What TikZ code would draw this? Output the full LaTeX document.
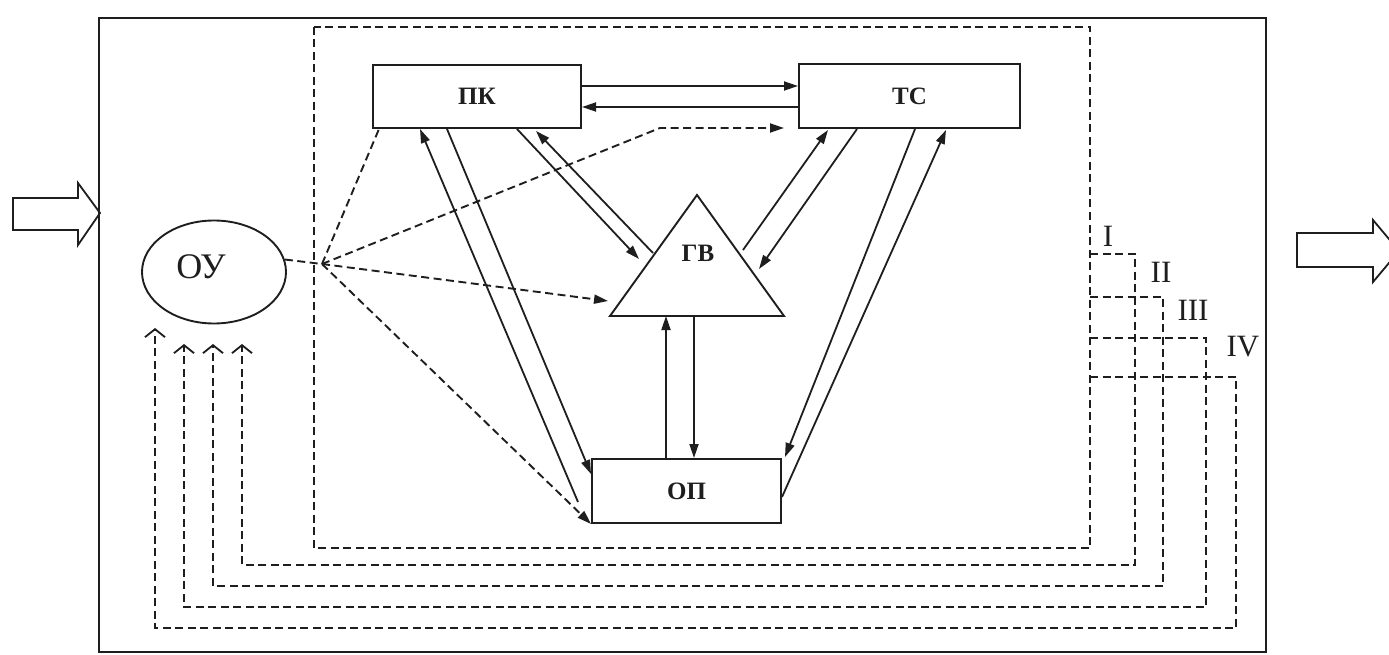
\documentclass[tikz,border=0pt]{standalone}
\usepackage{fontspec}
\setmainfont{Liberation Serif}
\usetikzlibrary{arrows.meta,shapes.geometric,calc}
\definecolor{ink}{RGB}{30,30,30}
\begin{document}
\begin{tikzpicture}[x=1pt,y=-1pt,
  ln/.style={line width=1.8pt, draw=ink},
  arr/.style={ln, -{Triangle[length=14pt,width=9pt]}},
  dsh/.style={line width=1.9pt, draw=ink, dash pattern=on 8pt off 4.5pt},
  darr/.style={dsh, -{Triangle[length=14pt,width=9pt]}},
  fb/.style={dsh, -{Straight Barb[length=8pt,width=20pt,line width=1.8pt]}},
  lbl/.style={font=\bfseries\fontsize{25}{27}\selectfont, text=ink},
  box/.style={draw=ink, line width=2pt, rectangle, inner sep=0pt, lbl},
  roman/.style={font=\fontsize{31}{33}\selectfont, text=ink, inner sep=0pt},
  blockarrow/.style={draw=ink, line width=1.8pt, line join=miter}
]
\useasboundingbox (0,0) rectangle (1389,655);
\clip (0,0) rectangle (1389,655);

% outer frame and inner dashed frame
\draw[ink, line width=2.2pt] (99,18) rectangle (1266,652);
\draw[dsh] (314,27) rectangle (1090,548);

% input / output block arrows
\draw[blockarrow] (13,198) -- (78,198) -- (78,183) -- (100,213) -- (78,245) -- (78,230) -- (13,230) -- cycle;
\draw[blockarrow] (1297,233) -- (1373,233) -- (1373,220) -- (1399,251) -- (1373,282) -- (1373,267) -- (1297,267) -- cycle;

% nodes
\node[box, minimum width=208pt, minimum height=63pt] (pk) at (477,96.5) {ПК};
\node[box, minimum width=221pt, minimum height=64pt] (tc) at (909.5,96) {ТС};
\node[box, minimum width=189pt, minimum height=64pt] (op) at (686.5,491) {ОП};
\node[draw=ink, line width=1.9pt, ellipse, minimum width=144pt, minimum height=103pt, inner sep=0pt] (ou) at (214,272) {};
\node[font=\fontsize{36}{38}\selectfont, text=ink, inner sep=0pt] (oulabel) at (201,267) {ОУ};

% triangle ГВ
\coordinate (gvL) at (610,316);
\coordinate (gvR) at (784,316);
\coordinate (gvT) at (697,195);
\draw[ink, line width=1.9pt, line join=miter] (gvL) -- (gvR) -- (gvT) -- cycle;
\node[lbl, inner sep=0pt] (gv) at (698,253) {ГВ};

% ПК <-> ТС
\draw[arr] ([yshift=10.5pt]pk.east) -- ([yshift=10pt]tc.west);
\draw[arr] ([yshift=-11pt]tc.west) -- ([yshift=-10.5pt]pk.east);

% ПК <-> ОП
\coordinate (a0) at (578,502);
\draw[arr] (a0) -- ([xshift=48pt]pk.south west);
\draw[arr] ([xshift=75pt]pk.south west) -- ([yshift=17pt]op.west);

% ПК <-> ГВ
\coordinate (c1) at (639,259);
\coordinate (d0) at (653,253);
\draw[arr] ([xshift=145pt]pk.south west) -- (c1);
\draw[arr] (d0) -- ([xshift=164pt,yshift=-2pt]pk.south west);

% ТС <-> ГВ
\coordinate (e0) at (743,250);
\coordinate (f1) at (759,269);
\draw[arr] (e0) -- ([xshift=30pt,yshift=-1pt]tc.south west);
\draw[arr] ([xshift=59pt]tc.south west) -- (f1);

% ТС <-> ОП
\draw[arr] ([xshift=117pt]tc.south west) -- ([xshift=3pt,yshift=1pt]op.north east);
\draw[arr] ([yshift=-6pt]op.east) -- ([xshift=148pt,yshift=-1pt]tc.south west);

% ГВ <-> ОП
\draw[arr] ([xshift=75pt]op.north west) -- ([xshift=75pt]op.north west |- gvL);
\draw[arr] ([xshift=103pt]op.north west |- gvL) -- ([xshift=103pt]op.north west);

% dashed fan from ОУ
\coordinate (fan) at (322,264);
\coordinate (bend) at (660,128);
\coordinate (g1) at (608,301);
\draw[dsh] (ou.10) -- (fan);
\draw[dsh] (fan) -- ([xshift=7pt]pk.south west);
\draw[darr] (fan) -- (bend) -- ([xshift=-14pt,yshift=1pt]tc.south west);
\draw[darr] (fan) -- (g1);
\draw[darr] (fan) -- (op.south west);

% feedback loops
\coordinate (s1) at (1090,254); \coordinate (t1) at (242,344);
\coordinate (s2) at (1090,297); \coordinate (t2) at (213,344);
\coordinate (s3) at (1090,338); \coordinate (t3) at (184,344);
\coordinate (s4) at (1090,377); \coordinate (t4) at (155,328);
\draw[fb] (s1) -| (1135,565) -| (t1);
\draw[fb] (s2) -| (1163,586) -| (t2);
\draw[fb] (s3) -| (1206,607) -| (t3);
\draw[fb] (s4) -| (1236,628) -| (t4);

% roman labels
\node[roman] (r1) at (1108,236) {I};
\node[roman] (r2) at (1161,272) {II};
\node[roman] (r3) at (1193,310) {III};
\node[roman] (r4) at (1243,347) {IV};
\end{tikzpicture}
\end{document}
